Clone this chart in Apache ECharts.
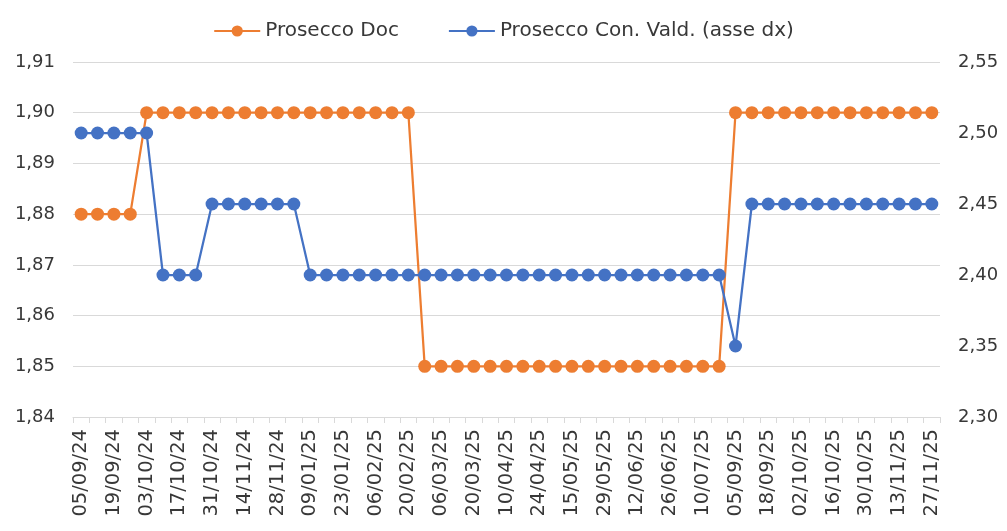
<!DOCTYPE html>
<html>
<head>
<meta charset="utf-8">
<script src="https://cdn.jsdelivr.net/npm/echarts@6/dist/echarts.min.js"></script>
<style>
  html, body { margin: 0; padding: 0; background: #fff; }
  #chart { width: 1007px; height: 531px; }
</style>
</head>
<body>
<div id="chart"></div>
<script>
// Weekly price observations
const dates = [
  '05/09/24','12/09/24','19/09/24','26/09/24','03/10/24','10/10/24','17/10/24','24/10/24',
  '31/10/24','07/11/24','14/11/24','21/11/24','28/11/24','12/12/24','09/01/25','16/01/25',
  '23/01/25','30/01/25','06/02/25','13/02/25','20/02/25','27/02/25','06/03/25','13/03/25',
  '20/03/25','27/03/25','10/04/25','17/04/25','24/04/25','08/05/25','15/05/25','22/05/25',
  '29/05/25','05/06/25','12/06/25','19/06/25','26/06/25','03/07/25','10/07/25','24/07/25',
  '05/09/25','11/09/25','18/09/25','25/09/25','02/10/25','09/10/25','16/10/25','23/10/25',
  '30/10/25','06/11/25','13/11/25','20/11/25','27/11/25'
];

const proseccoDoc = [
  1.88, 1.88, 1.88, 1.88,
  1.90, 1.90, 1.90, 1.90, 1.90, 1.90, 1.90, 1.90, 1.90, 1.90, 1.90, 1.90, 1.90, 1.90, 1.90, 1.90, 1.90,
  1.85, 1.85, 1.85, 1.85, 1.85, 1.85, 1.85, 1.85, 1.85, 1.85, 1.85, 1.85, 1.85, 1.85, 1.85, 1.85, 1.85, 1.85, 1.85,
  1.90, 1.90, 1.90, 1.90, 1.90, 1.90, 1.90, 1.90, 1.90, 1.90, 1.90, 1.90, 1.90
];

const proseccoConVald = [
  2.50, 2.50, 2.50, 2.50, 2.50,
  2.40, 2.40, 2.40,
  2.45, 2.45, 2.45, 2.45, 2.45, 2.45,
  2.40, 2.40, 2.40, 2.40, 2.40, 2.40, 2.40, 2.40, 2.40, 2.40, 2.40, 2.40, 2.40,
  2.40, 2.40, 2.40, 2.40, 2.40, 2.40, 2.40, 2.40, 2.40, 2.40, 2.40, 2.40, 2.40,
  2.35,
  2.45, 2.45, 2.45, 2.45, 2.45, 2.45, 2.45, 2.45, 2.45, 2.45, 2.45, 2.45
];

const leftAxis = { min: 1.84, max: 1.91, interval: 0.01 };
const rightAxis = { min: 2.30, max: 2.55, interval: 0.05 };

const FONT = 'DejaVu Sans';
const TEXT = '#383838';
const GRID = '#d9d9d9';
const ORANGE = '#ED7D31';
const BLUE = '#4472C4';

const comma = (d) => (v) => v.toFixed(d).replace('.', ',');

const chart = echarts.init(document.getElementById('chart'), null, { renderer: 'canvas' });
chart.setOption({
  animation: false,
  textStyle: { fontFamily: FONT },
  legend: {
    top: 16,
    left: 'center',
    itemWidth: 46,
    itemHeight: 14,
    itemGap: 49,
    textStyle: { fontFamily: FONT, fontSize: 20, color: TEXT },
    data: ['Prosecco Doc', 'Prosecco Con. Vald. (asse dx)']
  },
  grid: { left: 73, right: 67, top: 62, bottom: 114 },
  xAxis: {
    type: 'category',
    data: dates,
    boundaryGap: true,
    axisLine: { lineStyle: { color: GRID, width: 1 } },
    axisTick: { show: true, interval: 0, length: 6, lineStyle: { color: GRID } },
    axisLabel: {
      interval: 1,
      rotate: 90,
      margin: 12,
      fontFamily: FONT,
      fontSize: 19.5,
      color: TEXT
    }
  },
  yAxis: [
    {
      type: 'value',
      min: leftAxis.min, max: leftAxis.max, interval: leftAxis.interval,
      axisLine: { show: false },
      axisTick: { show: false },
      splitLine: { lineStyle: { color: GRID, width: 1.2 } },
      axisLabel: { formatter: comma(2), fontFamily: FONT, fontSize: 18, color: TEXT, margin: 18 }
    },
    {
      type: 'value',
      min: rightAxis.min, max: rightAxis.max, interval: rightAxis.interval,
      axisLine: { show: false },
      axisTick: { show: false },
      splitLine: { show: false },
      axisLabel: { formatter: comma(2), fontFamily: FONT, fontSize: 18, color: TEXT, margin: 18 }
    }
  ],
  series: [
    {
      name: 'Prosecco Doc',
      type: 'line',
      yAxisIndex: 0,
      data: proseccoDoc,
      symbol: 'circle',
      symbolSize: 13,
      showAllSymbol: true,
      lineStyle: { color: ORANGE, width: 2.25 },
      itemStyle: { color: ORANGE },
      z: 2
    },
    {
      name: 'Prosecco Con. Vald. (asse dx)',
      type: 'line',
      yAxisIndex: 1,
      data: proseccoConVald,
      symbol: 'circle',
      symbolSize: 13,
      showAllSymbol: true,
      lineStyle: { color: BLUE, width: 2.25 },
      itemStyle: { color: BLUE },
      z: 3
    }
  ]
});
</script>
</body>
</html>
